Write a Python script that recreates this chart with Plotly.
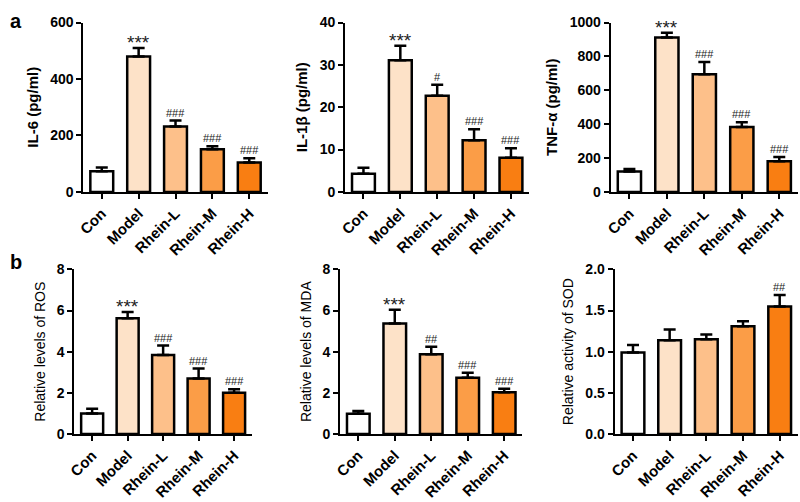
import plotly.graph_objects as go

groups = ["Con", "Model", "Rhein-L", "Rhein-M", "Rhein-H"]
bar_colors = ["#ffffff", "#fde2c8", "#fdc08a", "#fb9d47", "#f97e12"]

il6 = [73, 480, 232, 151, 104]
il6_err = [14, 30, 21, 11, 15]
il6_sig = ["", "***", "###", "###", "###"]

il1b = [4.3, 31.1, 22.7, 12.2, 8.1]
il1b_err = [1.4, 3.4, 2.6, 2.6, 2.2]
il1b_sig = ["", "***", "#", "###", "###"]

tnfa = [121, 912, 694, 383, 181]
tnfa_err = [14, 28, 73, 29, 25]
tnfa_sig = ["", "***", "###", "###", "###"]

ros = [1.0, 5.63, 3.84, 2.7, 2.0]
ros_err = [0.23, 0.3, 0.46, 0.48, 0.17]
ros_sig = ["", "***", "###", "###", "###"]

mda = [0.98, 5.37, 3.88, 2.73, 2.03]
mda_err = [0.14, 0.67, 0.36, 0.25, 0.17]
mda_sig = ["", "***", "##", "###", "###"]

sod = [0.99, 1.14, 1.15, 1.31, 1.55]
sod_err = [0.09, 0.13, 0.06, 0.06, 0.14]
sod_sig = ["", "", "", "", "##"]

# values, errors, marks, y title, y range, tick step, tick format, bold title
panels = [
    (il6, il6_err, il6_sig, "IL-6 (pg/ml)", [0, 600], 200, None, True),
    (il1b, il1b_err, il1b_sig, "IL-1β (pg/ml)", [0, 40], 10, None, True),
    (tnfa, tnfa_err, tnfa_sig, "TNF-α (pg/ml)", [0, 1000], 200, None, True),
    (ros, ros_err, ros_sig, "Relative levels of ROS", [0, 8], 2, None, False),
    (mda, mda_err, mda_sig, "Relative levels of MDA", [0, 8], 2, None, False),
    (sod, sod_err, sod_sig, "Relative activity of SOD", [0, 2], 0.5, ".1f", False),
]

W, H = 800, 502
# pixel boxes of each plot area: (left, right, top, bottom)
boxes = [
    (77, 263, 15, 190),
    (341, 527, 15, 190),
    (609, 798, 15, 190),
    (68, 247, 270, 440),
    (336, 520, 270, 440),
    (613, 798, 270, 440),
]

FONT = "Liberation Sans, Arial, sans-serif"
fig = go.Figure()
annotations = []

for i, (vals, errs, sigs, title, yr, dt, fmt, bold) in enumerate(panels):
    n = "" if i == 0 else str(i + 1)
    l, r, t, b = boxes[i]
    fig.add_trace(go.Bar(
        x=groups, y=vals, width=0.62,
        marker=dict(color=bar_colors, line=dict(color="black", width=2.5)),
        error_y=dict(type="data", symmetric=False, array=errs,
                     arrayminus=[0] * len(errs), color="black",
                     thickness=2.5, width=6),
        xaxis="x" + n, yaxis="y" + n, showlegend=False,
    ))
    fig.update_layout(**{
        "xaxis" + n: dict(
            domain=[l / W, r / W], anchor="y" + n, range=[-0.5, 4.5],
            showline=True, linecolor="black", linewidth=2,
            ticks="outside", ticklen=5, tickwidth=1.5, tickcolor="black",
            tickangle=-45, showgrid=False, zeroline=False,
            tickfont=dict(family=FONT, size=15, color="black", weight="bold"),
        ),
        "yaxis" + n: dict(
            domain=[1 - b / H, 1 - t / H], anchor="x" + n, range=yr,
            dtick=dt, tickformat=fmt,
            showline=True, linecolor="black", linewidth=2,
            ticks="outside", ticklen=5, tickwidth=2, tickcolor="black",
            showgrid=False, zeroline=False,
            tickfont=dict(family=FONT, size=14, color="black", weight="bold"),
            title=dict(text=title, standoff=8,
                       font=dict(family=FONT, size=15 if bold else 14,
                                 color="black",
                                 weight="bold" if bold else "normal")),
        ),
    })
    for g, v, e, s in zip(groups, vals, errs, sigs):
        if s:
            star = "*" in s
            annotations.append(dict(
                x=g, y=v + e, xref="x" + n, yref="y" + n, text=s,
                showarrow=False, yanchor="bottom", yshift=-7 if star else 0,
                font=dict(family=FONT, size=19 if star else 11, color="#222222"),
            ))

annotations.append(dict(x=1 / W, y=1.0, xref="paper", yref="paper", text="a",
                        showarrow=False, xanchor="left", yanchor="top",
                        font=dict(family=FONT, size=20, color="black", weight="bold")))
annotations.append(dict(x=1 / W, y=1 - 249 / H, xref="paper", yref="paper", text="b",
                        showarrow=False, xanchor="left", yanchor="top",
                        font=dict(family=FONT, size=20, color="black", weight="bold")))

fig.update_layout(
    width=W, height=H, margin=dict(l=0, r=0, t=0, b=0),
    paper_bgcolor="white", plot_bgcolor="white",
    annotations=annotations,
)

fig.write_html("out.html", config={"displayModeBar": False},
               post_script="document.body.style.margin='0';")
